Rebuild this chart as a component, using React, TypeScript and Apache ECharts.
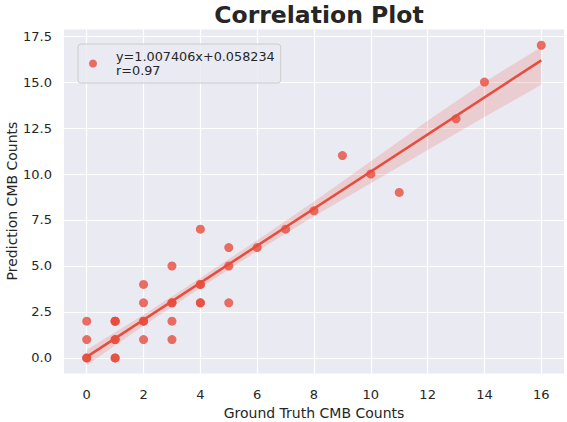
import React, { useEffect, useRef } from "react";
import * as echarts from "echarts";

const groundTruth = [0, 0, 0, 0, 1, 1, 1, 1, 1, 1, 1, 2, 2, 2, 2, 2, 3, 3, 3, 3, 3, 4, 4, 4, 4, 4, 5, 5, 5, 6, 7, 8, 9, 10, 11, 13, 14, 16];
const prediction = [0, 0, 1, 2, 0, 0, 1, 1, 2, 2, 2, 1, 2, 2, 3, 4, 1, 2, 3, 3, 5, 3, 3, 4, 4, 7, 3, 5, 6, 6, 7, 8, 11, 10, 9, 13, 15, 17];

const slope = 1.007406;
const intercept = 0.058234;
const rValue = 0.97;

const bandX = [0, 2, 4, 6, 8, 10, 12, 14, 16];
const bandLower = [-0.4, 1.75, 3.8, 5.8, 7.7, 9.5, 11.3, 13.1, 14.85];
const bandUpper = [0.45, 2.35, 4.35, 6.4, 8.5, 10.7, 12.9, 15.0, 16.9];

const xTicks = [0, 2, 4, 6, 8, 10, 12, 14, 16];
const yTicks = [0, 2.5, 5, 7.5, 10, 12.5, 15, 17.5];

const fitStartEnd = [0, 16];

export default function App() {
  const ref = useRef<HTMLDivElement>(null);
  useEffect(() => {
    const chart = echarts.init(ref.current!, null, { renderer: "svg" });
    const font = "DejaVu Sans";
    const textColor = "#262626";
    const legendName = `y=${slope.toFixed(6)}x+${intercept.toFixed(6)}\nr=${rValue.toFixed(2)}`;
    chart.setOption({
      animation: false,
      backgroundColor: "#ffffff",
      title: {
        text: "Correlation Plot",
        left: 314,
        textAlign: "center",
        top: -2,
        textStyle: { fontFamily: font, fontWeight: "bold", fontSize: 23.5, color: textColor },
      },
      graphic: [
        {
          type: "text",
          x: 12,
          y: 201,
          rotation: Math.PI / 2,
          style: {
            text: "Prediction CMB Counts",
            fontFamily: font,
            fontSize: 14,
            fill: textColor,
            align: "center",
            verticalAlign: "middle",
          },
        },
      ],
      legend: {
        data: [{ name: legendName, icon: "circle" }],
        left: 78,
        top: 44,
        itemWidth: 8,
        itemHeight: 8,
        itemGap: 0,
        padding: [5.5, 6, 5.5, 11],
        backgroundColor: "rgba(234,234,242,0.8)",
        borderColor: "#cccccc",
        borderWidth: 1,
        borderRadius: 3,
        textStyle: { fontFamily: font, fontSize: 12.8, color: textColor, lineHeight: 14, padding: [0, 0, 0, 14] },
      },
      grid: {
        left: 64,
        right: 3,
        top: 29.6,
        bottom: 48.4,
        show: true,
        backgroundColor: "#EAEAF2",
        borderWidth: 0,
        containLabel: false,
        outerBoundsMode: "none",
      },
      xAxis: {
        type: "value",
        min: -0.8,
        max: 16.8,
        name: "Ground Truth CMB Counts",
        nameLocation: "middle",
        nameGap: 30,
        nameTextStyle: { fontFamily: font, fontSize: 14, color: textColor },
        axisLine: { show: false },
        axisTick: { show: false, customValues: xTicks },
        axisLabel: { customValues: xTicks, fontFamily: font, fontSize: 13, color: textColor, margin: 14 },
        splitLine: { show: true, lineStyle: { color: "#ffffff", width: 1.2 } },
      },
      yAxis: {
        type: "value",
        min: -0.85,
        max: 17.85,
        axisLine: { show: false },
        axisTick: { show: false, customValues: yTicks },
        axisLabel: {
          customValues: yTicks,
          fontFamily: font,
          fontSize: 13,
          color: textColor,
          margin: 12,
          formatter: (v: number) => v.toFixed(1),
        },
        splitLine: { show: true, lineStyle: { color: "#ffffff", width: 1.2 } },
      },
      series: [
        {
          type: "custom",
          name: "band",
          silent: true,
          z: 1,
          data: bandX.map((x, i) => [x, bandLower[i], bandUpper[i]]),
          renderItem: (params: any, api: any) => {
            if (params.dataIndex !== 0) return null;
            const upper = bandX.map((x, i) => api.coord([x, bandUpper[i]]));
            const lower = bandX.map((x, i) => api.coord([x, bandLower[i]])).reverse();
            return {
              type: "polygon",
              shape: { points: upper.concat(lower) },
              style: { fill: "rgba(231,76,60,0.18)" },
            };
          },
        },
        {
          type: "scatter",
          name: legendName,
          symbolSize: 9,
          itemStyle: { color: "#E74C3C", opacity: 0.8 },
          data: groundTruth.map((x, i) => [x, prediction[i]]),
          z: 3,
        },
        {
          type: "line",
          name: "fit",
          symbol: "none",
          lineStyle: { color: "#E74C3C", width: 2.5 },
          data: fitStartEnd.map((x) => [x, slope * x + intercept]),
          z: 4,
        },
      ],
    });
    return () => chart.dispose();
  }, []);
  return <div ref={ref} style={{ width: 567, height: 422, position: "absolute", left: 0, top: 0 }} />;
}
